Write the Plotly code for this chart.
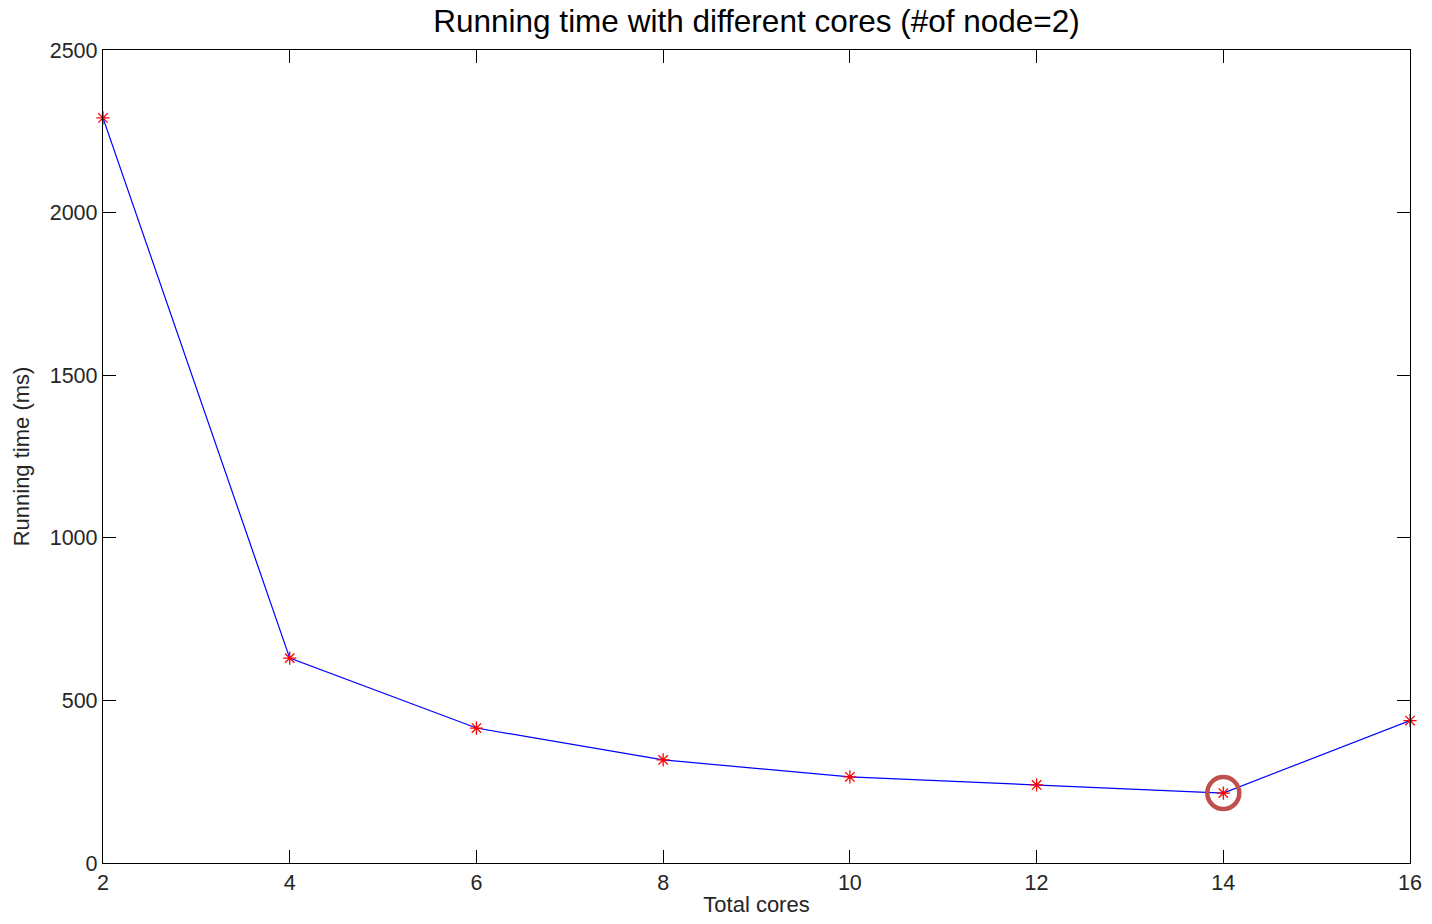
import plotly.graph_objects as go

cores = [2, 4, 6, 8, 10, 12, 14, 16]
running_time = [2291, 630, 415, 317, 265, 240, 215, 438]
x_ticks = [2, 4, 6, 8, 10, 12, 14, 16]
y_ticks = [0, 500, 1000, 1500, 2000, 2500]

imin = running_time.index(min(running_time))

FONT = "Liberation Sans, Arial"

fig = go.Figure()
fig.add_trace(go.Scatter(
    x=cores, y=running_time, mode="lines",
    line=dict(color="#0000FF", width=1.2), showlegend=False, hoverinfo="skip"))
fig.add_trace(go.Scatter(
    x=cores, y=running_time, mode="markers",
    marker=dict(symbol="asterisk", size=11, line=dict(color="#FF0000", width=1.3)),
    showlegend=False, cliponaxis=False))
fig.add_trace(go.Scatter(
    x=[cores[imin]], y=[running_time[imin]], mode="markers",
    marker=dict(symbol="circle-open", size=32, line=dict(color="#C0504D", width=4.5),
                color="#C0504D"),
    showlegend=False, cliponaxis=False))

axis_common = dict(
    showgrid=False, zeroline=False, showline=True, linecolor="#000000", linewidth=1.3,
    mirror="ticks", ticks="inside", ticklen=13, tickwidth=1.3, tickcolor="#000000",
    tickfont=dict(family=FONT, size=21.5, color="#262626"), automargin=False,
)

fig.update_layout(
    width=1432, height=924,
    margin=dict(l=103, r=22, t=50, b=61),
    paper_bgcolor="white", plot_bgcolor="white",
    title=dict(text="Running time with different cores (#of node=2)",
               x=0.5, xref="paper", xanchor="center", y=0.977, yanchor="middle",
               font=dict(family=FONT, size=31.5, color="#000000")),
    xaxis=dict(range=[2, 16], tickvals=x_ticks, ticktext=[str(v) for v in x_ticks],
               title=dict(text="Total cores", standoff=2,
                          font=dict(family=FONT, size=22, color="#262626")),
               **axis_common),
    yaxis=dict(range=[0, 2500], tickvals=y_ticks, ticktext=[str(v) for v in y_ticks],
               title=dict(text="Running time (ms)", standoff=14,
                          font=dict(family=FONT, size=22, color="#262626")),
               **axis_common),
)

fig.write_html("out.html")
